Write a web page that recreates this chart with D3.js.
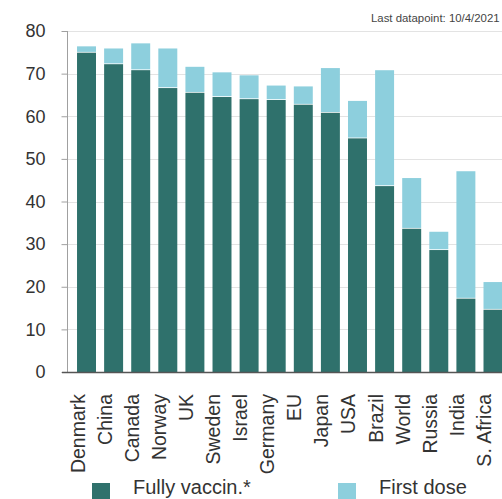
<!DOCTYPE html>
<html>
<head>
<meta charset="utf-8">
<script src="https://cdn.jsdelivr.net/npm/d3@7"></script>
<style>
  html, body { margin: 0; padding: 0; background: #fff; overflow: hidden; }
  svg { display: block; font-family: Arial, "Liberation Sans", Helvetica, sans-serif; }
</style>
</head>
<body>
<svg id="chart" width="502" height="499"></svg>
<script>
const countries = ["Denmark","China","Canada","Norway","UK","Sweden","Israel","Germany","EU","Japan","USA","Brazil","World","Russia","India","S. Africa"];
const fullyVaccinated = [75.1, 72.4, 71.0, 66.8, 65.7, 64.7, 64.2, 64.0, 62.9, 61.0, 55.0, 43.8, 33.8, 28.8, 17.4, 14.8];
const firstDose = [76.4, 75.9, 77.1, 75.9, 71.6, 70.3, 69.6, 67.2, 67.0, 71.3, 63.6, 70.8, 45.5, 32.9, 47.1, 21.1];
const yTicks = [0, 10, 20, 30, 40, 50, 60, 70, 80];
const legendLabels = ["Fully vaccin.*", "First dose"];
const noteText = "Last datapoint: 10/4/2021";

const darkColor = "#2f716c";
const lightColor = "#8dcfdd";

const svg = d3.select("#chart");
const W = 502;

const y = d3.scaleLinear().domain([0, 80]).range([372, 31]);
const x = d3.scaleBand().domain(countries).range([67, 512.5]).paddingInner(0.3).paddingOuter(0.37);

// gridlines
svg.append("g").selectAll("line").data(yTicks.filter(d => d > 0)).join("line")
  .attr("x1", 67).attr("x2", W)
  .attr("y1", d => Math.round(y(d)) + 0.5).attr("y2", d => Math.round(y(d)) + 0.5)
  .attr("stroke", "#e3e3e3").attr("stroke-width", 1);

// bars
const bars = svg.append("g");
bars.selectAll("rect.first").data(countries).join("rect")
  .attr("class", "first")
  .attr("x", d => x(d)).attr("width", x.bandwidth())
  .attr("y", (d, i) => y(firstDose[i]))
  .attr("height", (d, i) => y(fullyVaccinated[i]) - y(firstDose[i]))
  .attr("fill", lightColor);
bars.selectAll("rect.full").data(countries).join("rect")
  .attr("class", "full")
  .attr("x", d => x(d)).attr("width", x.bandwidth())
  .attr("y", (d, i) => y(fullyVaccinated[i]) + 0.8)
  .attr("height", (d, i) => y(0) - y(fullyVaccinated[i]) - 0.8)
  .attr("fill", darkColor);

// y axis
const yAxis = svg.append("g").attr("transform", "translate(67.5,0)")
  .call(d3.axisLeft(y).tickValues(yTicks).tickSize(6).tickPadding(16));
yAxis.select(".domain").attr("stroke", "#a0a0a0").attr("d", `M0,${y(80)}V${y(0)}`);
yAxis.selectAll(".tick line").attr("stroke", "#a0a0a0");
yAxis.selectAll(".tick text").attr("font-size", 18).attr("fill", "#333")
  .attr("font-family", "Arial, 'Liberation Sans', sans-serif");

// x axis baseline
svg.append("line").attr("x1", 62).attr("x2", W).attr("y1", 372.5).attr("y2", 372.5)
  .attr("stroke", "#555").attr("stroke-width", 1.5);

// x labels
svg.append("g").selectAll("text").data(countries).join("text")
  .attr("transform", d => `translate(${x(d) + x.bandwidth() / 2 - 2},394) rotate(-90)`)
  .attr("text-anchor", "end")
  .attr("font-size", 19.5).attr("fill", "#333")
  .text(d => d);

// note
svg.append("text").attr("x", 371).attr("y", 21.5)
  .attr("font-size", 11.4).attr("fill", "#444").text(noteText);

// legend
const legendX = [92, 338];
const legendTextX = [133, 379];
const legendColors = [darkColor, lightColor];
const lg = svg.append("g");
lg.selectAll("rect").data(legendLabels).join("rect")
  .attr("x", (d, i) => legendX[i]).attr("y", 483)
  .attr("width", 18).attr("height", 16)
  .attr("fill", (d, i) => legendColors[i]);
lg.selectAll("text").data(legendLabels).join("text")
  .attr("x", (d, i) => legendTextX[i]).attr("y", 493.5)
  .attr("font-size", 20).attr("fill", "#333")
  .text(d => d);
</script>
</body>
</html>
